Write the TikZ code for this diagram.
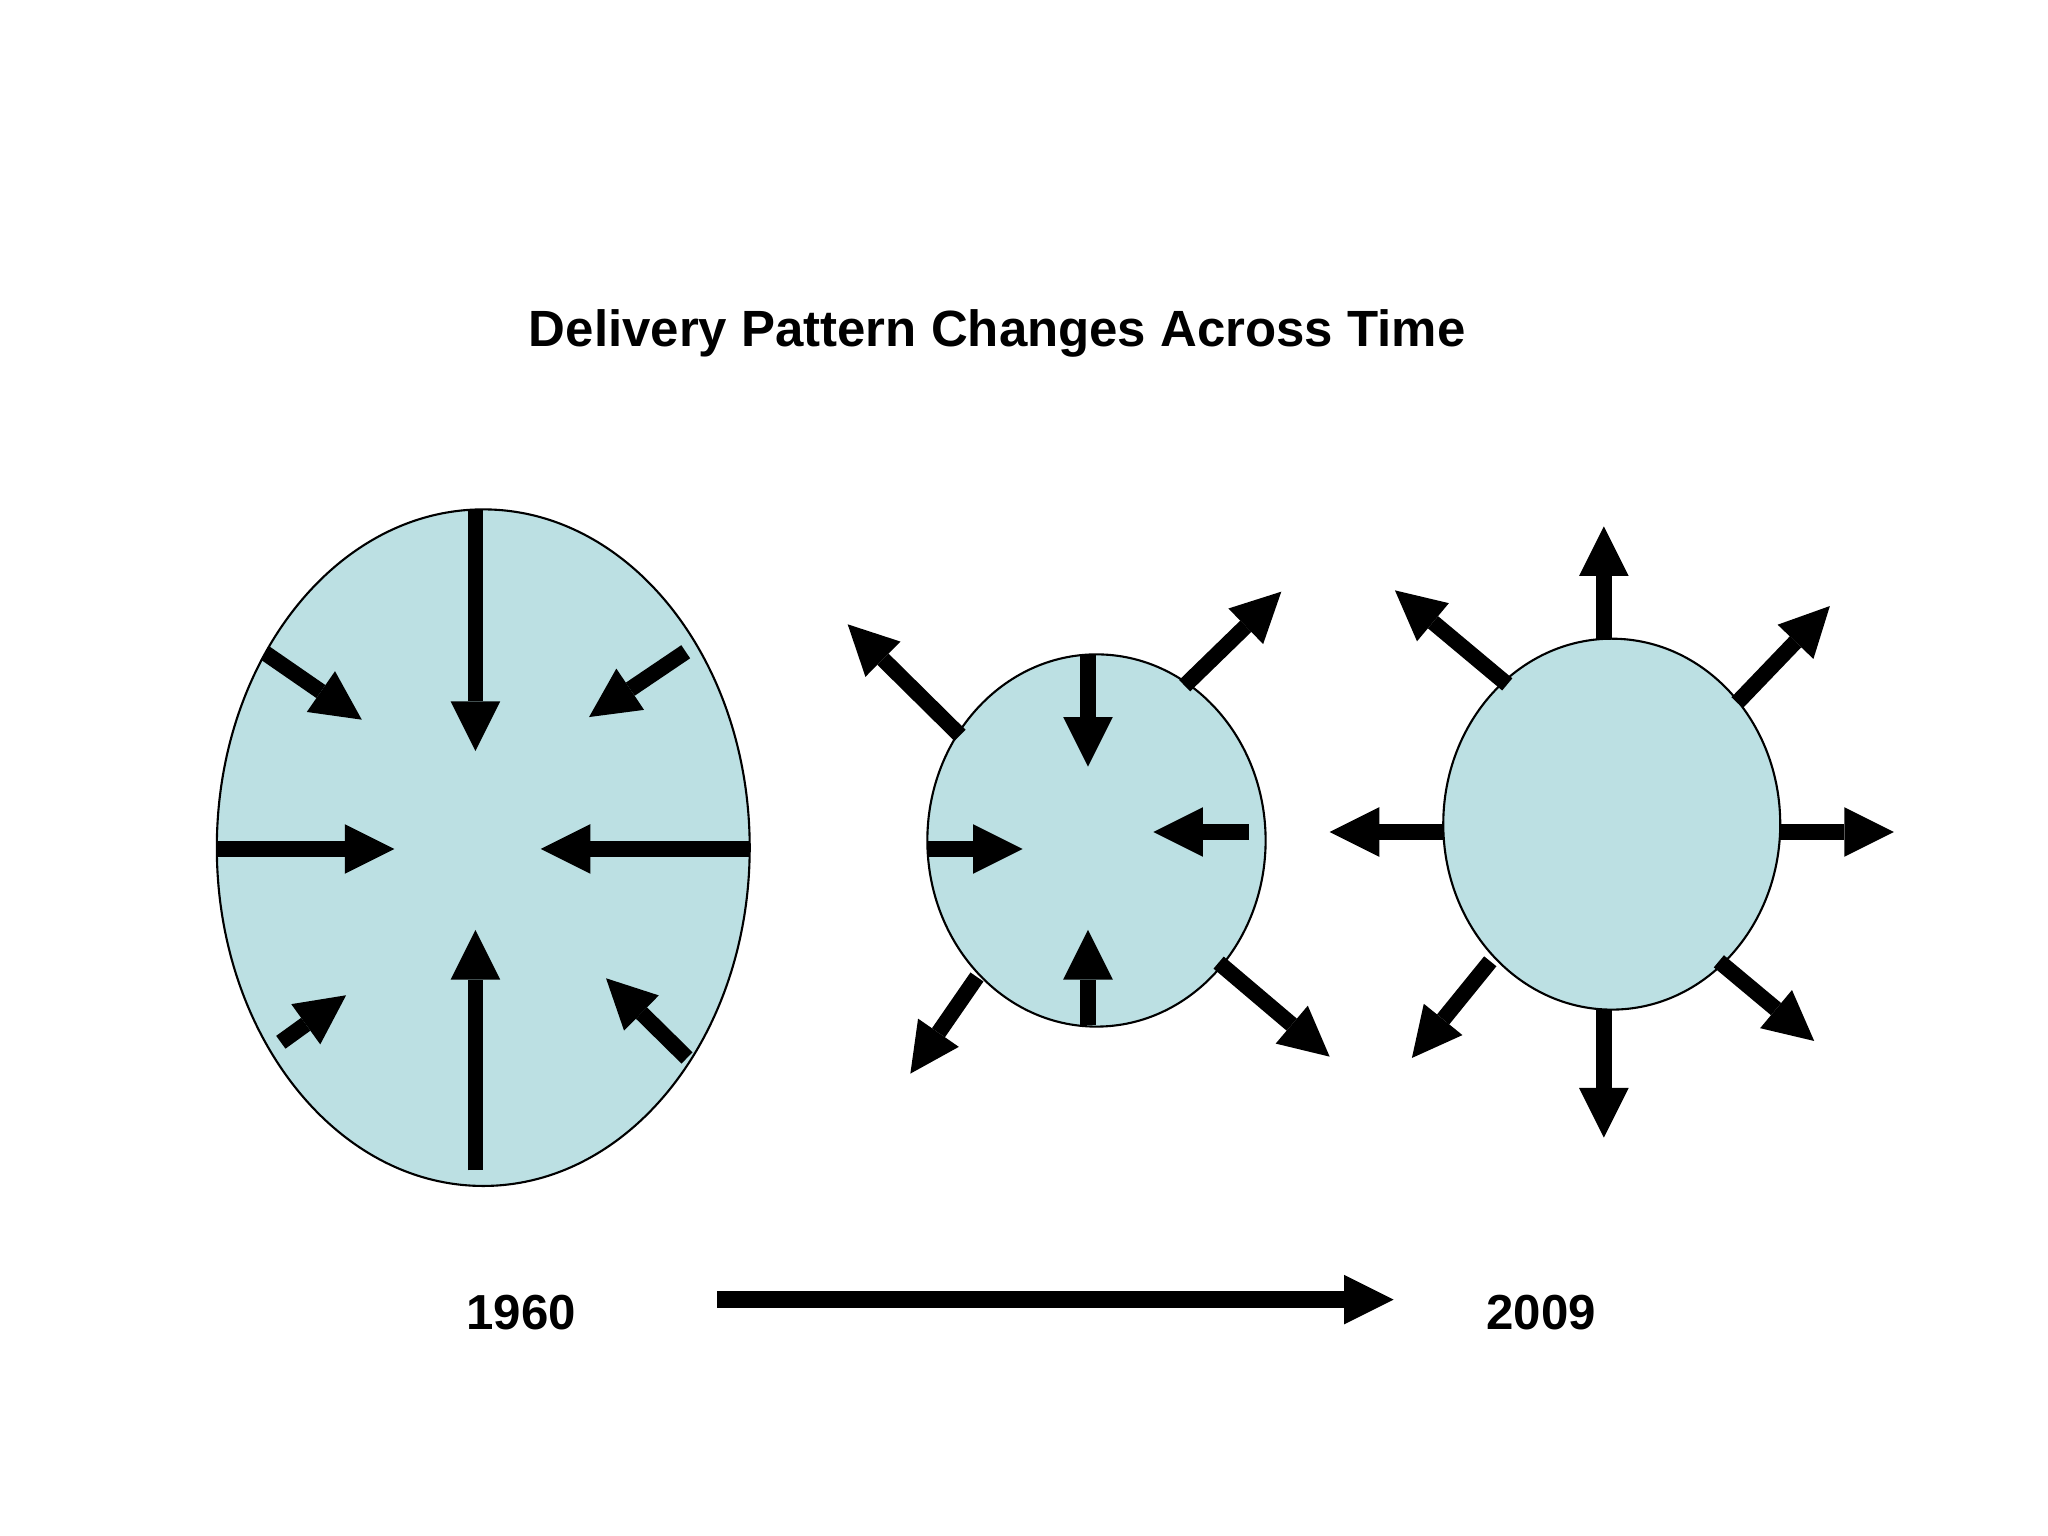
\documentclass[tikz,border=0pt]{standalone}
\usepackage{fontspec}
\setsansfont{Liberation Sans}
\definecolor{blobblue}{RGB}{188,224,227}

\begin{document}
\begin{tikzpicture}[x=0.0130612cm, y=0.0130612cm,
        blob/.style={draw=black, fill=blobblue, line width=0.6pt},
        shaft/.style={draw=black, line width=4.5pt},
        titletext/.style={font=\sffamily\bfseries\fontsize{14.5}{17}\selectfont, inner sep=0pt, anchor=base},
        yeartext/.style={font=\sffamily\bfseries\fontsize{14}{17}\selectfont, inner sep=0pt, anchor=base}]
        \useasboundingbox (0,0) rectangle (1568,-1176);
        \node [titletext] (title) at (763.5,-265) {Delivery Pattern Changes Across Time};
        \draw [blob] (370,-649) ellipse (204 and 259);
        \draw [blob] (839.5,-643.5) ellipse (129.5 and 142.5);
        \draw [blob] (1234,-631) ellipse (129 and 142);
        \draw [shaft] (364,-390) -- (364,-537);
        \fill [black] (364,-575) -- (345,-537) -- (383,-537);
        \draw [shaft] (364,-896) -- (364,-750);
        \fill [black] (364,-712) -- (345,-750) -- (383,-750);
        \draw [shaft] (166,-650) -- (264,-650);
        \fill [black] (302,-650) -- (264,-631) -- (264,-669);
        \draw [shaft] (574,-650) -- (452,-650);
        \fill [black] (414,-650) -- (452,-631) -- (452,-669);
        \draw [shaft] (203,-500) -- (245.7,-529.5);
        \fill [black] (277,-551) -- (234.9,-545.1) -- (256.5,-513.9);
        \draw [shaft] (525,-499) -- (482.5,-527.7);
        \fill [black] (451,-549) -- (471.9,-511.9) -- (493.1,-543.5);
        \draw [shaft] (215,-798) -- (234.1,-784.2);
        \fill [black] (265,-762) -- (245.2,-799.6) -- (223,-768.8);
        \draw [shaft] (526,-810) -- (491.1,-775.6);
        \fill [black] (464,-749) -- (504.4,-762.1) -- (477.8,-789.1);
        \draw [shaft] (833,-501) -- (833,-549);
        \fill [black] (833,-587) -- (814,-549) -- (852,-549);
        \draw [shaft] (833,-785) -- (833,-750);
        \fill [black] (833,-712) -- (814,-750) -- (852,-750);
        \draw [shaft] (710,-650) -- (745,-650);
        \fill [black] (783,-650) -- (745,-631) -- (745,-669);
        \draw [shaft] (956,-637) -- (921,-637);
        \fill [black] (883,-637) -- (921,-618) -- (921,-656);
        \draw [shaft] (735,-563) -- (676,-504.7);
        \fill [black] (649,-478) -- (689.4,-491.2) -- (662.6,-518.2);
        \draw [shaft] (907,-525) -- (953.8,-479.5);
        \fill [black] (981,-453) -- (967.1,-493.1) -- (940.5,-465.9);
        \draw [shaft] (748,-748) -- (718.5,-790.7);
        \fill [black] (697,-822) -- (702.9,-779.9) -- (734.1,-801.5);
        \draw [shaft] (933,-737) -- (989,-784.5);
        \fill [black] (1018,-809) -- (976.7,-799) -- (1001.3,-770);
        \draw [shaft] (1228,-489) -- (1228,-441);
        \fill [black] (1228,-403) -- (1209,-441) -- (1247,-441);
        \draw [shaft] (1228,-773) -- (1228,-833);
        \fill [black] (1228,-871) -- (1209,-833) -- (1247,-833);
        \draw [shaft] (1105,-637) -- (1056,-637);
        \fill [black] (1018,-637) -- (1056,-618) -- (1056,-656);
        \draw [shaft] (1363,-637) -- (1412,-637);
        \fill [black] (1450,-637) -- (1412,-618) -- (1412,-656);
        \draw [shaft] (1154,-524) -- (1097.1,-476.4);
        \fill [black] (1068,-452) -- (1109.3,-461.8) -- (1084.9,-491);
        \draw [shaft] (1330,-538) -- (1374.7,-491.4);
        \fill [black] (1401,-464) -- (1388.4,-504.5) -- (1361,-478.3);
        \draw [shaft] (1141,-736) -- (1104.9,-780.5);
        \fill [black] (1081,-810) -- (1090.1,-768.5) -- (1119.7,-792.5);
        \draw [shaft] (1316,-736) -- (1359.8,-772.6);
        \fill [black] (1389,-797) -- (1347.6,-787.2) -- (1372,-758);
        \node [yeartext] (y1960) at (399,-1018) {1960};
        \node [yeartext] (y2009) at (1180,-1018) {2009};
        \coordinate (tfrom) at (549,-995);
        \coordinate (tto) at (1029,-995);
        \draw [shaft, line width=4.7pt] (tfrom) -- (tto);
        \fill [black] (1067,-995) -- (1029,-976) -- (1029,-1014);
\end{tikzpicture}
\end{document}
